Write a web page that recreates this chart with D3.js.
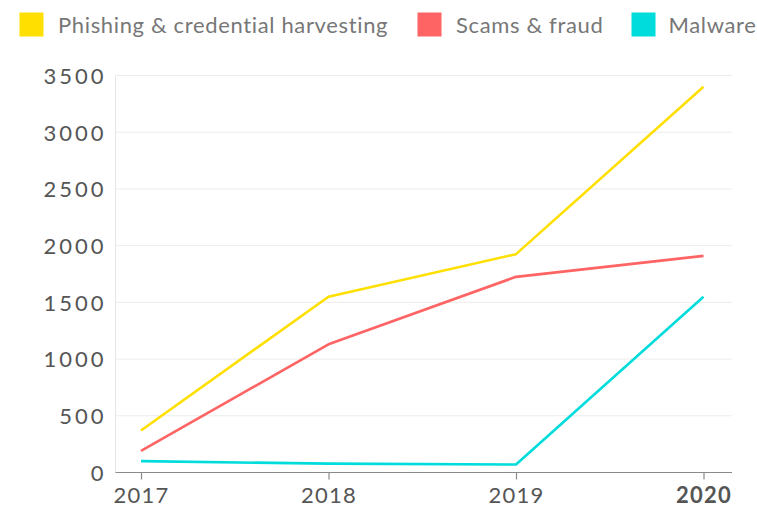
<!DOCTYPE html>
<html>
<head>
<meta charset="utf-8">
<script src="https://cdn.jsdelivr.net/npm/d3@7/dist/d3.min.js"></script>
<style>
  html, body { margin: 0; padding: 0; background: #fff; }
  svg { display: block; }
  text { font-family: Lato, "Open Sans", sans-serif; }
</style>
</head>
<body>
<svg id="chart" width="757" height="511"></svg>
<script>
const years = ["2017", "2018", "2019", "2020"];
const seriesNames = ["Phishing & credential harvesting", "Scams & fraud", "Malware"];
const seriesColors = ["#FFDF00", "#FF6464", "#00DCDC"];
const phishing = [370, 1550, 1925, 3400];
const scams = [190, 1130, 1725, 1910];
const malware = [100, 78, 70, 1550];
const yTicks = [0, 500, 1000, 1500, 2000, 2500, 3000, 3500];

const seriesValues = [phishing, scams, malware];

const svg = d3.select("#chart");
const plotLeft = 115.5, plotRight = 732;
const x = d3.scalePoint().domain(years).range([141, 703.5]);
const y = d3.scaleLinear().domain([0, 3500]).range([472.5, 75.5]);

// gridlines
svg.append("g").selectAll("line").data(yTicks.filter(d => d > 0)).join("line")
  .attr("x1", plotLeft).attr("x2", plotRight)
  .attr("y1", d => y(d)).attr("y2", d => y(d))
  .attr("stroke", "#ececec").attr("stroke-width", 1);

// y axis line
svg.append("line").attr("x1", plotLeft).attr("x2", plotLeft)
  .attr("y1", y(3500)).attr("y2", y(0))
  .attr("stroke", "#e6e6e6").attr("stroke-width", 1);

// y axis labels
const yAxis = d3.axisLeft(y).tickValues(yTicks).tickSize(0).tickPadding(0).tickFormat(d3.format("d"));
const gy = svg.append("g").attr("transform", `translate(106.5,0)`).call(yAxis);
gy.select(".domain").remove();
gy.selectAll("text").attr("font-size", 22).attr("fill", "#555").attr("dy", "0.36em")
  .attr("font-family", "Lato, sans-serif").attr("letter-spacing", 3);

// x axis
const xAxis = d3.axisBottom(x).tickSize(7).tickPadding(8);
const gx = svg.append("g").attr("transform", `translate(0,${y(0)})`).call(xAxis);
gx.select(".domain").remove();
gx.append("line").attr("x1", plotLeft).attr("x2", plotRight).attr("y1", 0).attr("y2", 0)
  .attr("stroke", "#8a8a8a").attr("stroke-width", 1.2);
gx.selectAll(".tick line").attr("stroke", "#8a8a8a").attr("stroke-width", 1.2);
gx.selectAll("text").attr("font-size", 22).attr("fill", "#555")
  .attr("font-family", "Lato, sans-serif").attr("letter-spacing", 1.2)
  .attr("font-weight", d => d === "2020" ? "bold" : "normal");

// lines
const line = d3.line().x((d, i) => x(years[i])).y(d => y(d));
svg.append("g").selectAll("path").data(seriesValues).join("path")
  .attr("d", d => line(d))
  .attr("fill", "none")
  .attr("stroke", (d, i) => seriesColors[i])
  .attr("stroke-width", 2.6)
  .attr("stroke-linejoin", "round");

// legend
const legendX = [19.5, 417.5, 631.5];
const lg = svg.append("g").selectAll("g").data(seriesNames).join("g")
  .attr("transform", (d, i) => `translate(${legendX[i]},12.5)`);
lg.append("rect").attr("width", 24).attr("height", 24)
  .attr("fill", (d, i) => seriesColors[i]);
lg.append("text").attr("x", (d, i) => i === 2 ? 37 : 38.5).attr("y", 20.5)
  .attr("font-size", 22).attr("fill", "#777").attr("letter-spacing", 0.65)
  .text(d => d);
</script>
</body>
</html>
